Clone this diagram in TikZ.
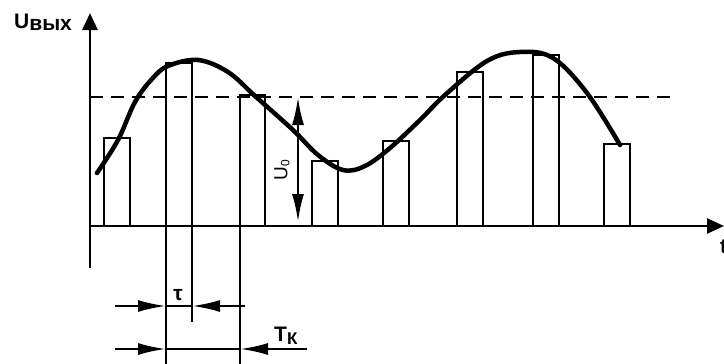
\documentclass[tikz,border=0pt]{standalone}
\usepackage{fontspec}
\setmainfont{Liberation Sans}
\usetikzlibrary{arrows.meta}

\begin{document}
\begin{tikzpicture}[%
        x=1pt, y=-1pt,
        >={Latex[length=28pt,width=12pt]},
        axis/.style={line width=2.6pt, -{Triangle[length=17pt,width=15pt]}},
        pulse/.style={line width=2.3pt},
        wave/.style={line width=4.5pt, line cap=round},
        level/.style={line width=2.8pt, dash pattern=on 13pt off 8pt},
        dim/.style={line width=2.4pt},
        lbl/.style={font=\fontsize{21}{25}\selectfont\bfseries, inner sep=0pt}
        ]
        \useasboundingbox (0,0) rectangle (724,364);

        % axes
        \coordinate (O) at (90,226);
        \coordinate (ytop) at (90,13);
        \coordinate (ybot) at (90,268);
        \coordinate (xend) at (724,226);
        \draw[axis] (ybot) -- (ytop);
        \draw[axis] (O) -- (xend);

        \node[lbl, anchor=base west] (uout) at (14,28) {U\raisebox{-2pt}{\fontsize{21}{25}\selectfont вых}};
        \node[lbl, anchor=base west] (tlbl) at (720,253) {t};

        % level
        \coordinate (l1) at (90,97);
        \coordinate (l2) at (673,97);
        \draw[level] (l1) -- (l2);

        % pulses
        \draw[pulse] (104,226) rectangle (130,138);
        \draw[pulse] (166,226) rectangle (192,63);
        \draw[pulse] (240,226) rectangle (265,95);
        \draw[pulse] (312,226) rectangle (338,161);
        \draw[pulse] (383,226) rectangle (409,141);
        \draw[pulse] (457,226) rectangle (483,72);
        \draw[pulse] (533,226) rectangle (559,55);
        \draw[pulse] (604,226) rectangle (630,144);

        % signal
        \draw[wave] plot[smooth, tension=0.6] coordinates {(97,173) (118,140) (135,102) (152,79)
            (168,66) (198,60) (228,72) (255,96) (293,130) (318,155) (343,170) (365,166)
            (390,148) (420,120) (445,95) (487,61) (520,52) (553,58) (587,93) (620,145)};

        % U0
        \coordinate (u0top) at (298,97);
        \coordinate (u0bot) at (298,222);
        \draw[dim, <->] (u0top) -- (u0bot);
        \node[lbl, rotate=90, font=\fontsize{19}{22}\selectfont] (u0) at (282,170)
            {U\raisebox{-2pt}{\fontsize{12}{14}\selectfont 0}};

        % extension lines
        \coordinate (e1) at (166,364);
        \coordinate (e2) at (192,322);
        \coordinate (e3) at (240,364);
        \draw[pulse] (166,226) -- (e1);
        \draw[pulse] (192,226) -- (e2);
        \draw[pulse] (240,226) -- (e3);

        % tau
        \coordinate (ta) at (115,306);
        \coordinate (tb) at (166,306);
        \coordinate (tc) at (192,306);
        \coordinate (td) at (245,306);
        \draw[dim, ->] (ta) -- (tb);
        \draw[dim] (tb) -- (tc);
        \draw[dim, ->] (td) -- (tc);
        \node[lbl, anchor=base] (tau) at (178,300) {τ};

        % Tk
        \coordinate (ka) at (115,349);
        \coordinate (kb) at (166,349);
        \coordinate (kc) at (240,349);
        \coordinate (kd) at (307,349);
        \draw[dim, ->] (ka) -- (kb);
        \draw[dim] (kb) -- (kc);
        \draw[dim, ->] (kd) -- (kc);
        \node[lbl, anchor=base west] (tk) at (274,341) {T\raisebox{-3pt}{\fontsize{17}{20}\selectfont К}};
\end{tikzpicture}
\end{document}
